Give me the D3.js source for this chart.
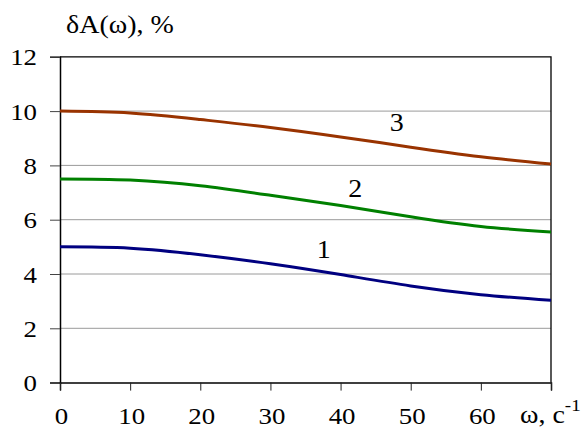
<!DOCTYPE html>
<html>
<head>
<meta charset="utf-8">
<script src="https://cdn.jsdelivr.net/npm/d3@7"></script>
<style>
  html, body { margin: 0; padding: 0; background: #fff; }
</style>
</head>
<body>
<div id="chart"></div>
<script>
// data
const omega = [0, 10, 20, 30, 40, 50, 60, 70]
const curve1 = [5.0, 4.95, 4.71, 4.38, 3.98, 3.56, 3.24, 3.03]
const curve2 = [7.5, 7.46, 7.25, 6.90, 6.52, 6.11, 5.75, 5.55]
const curve3 = [10.0, 9.93, 9.69, 9.40, 9.05, 8.67, 8.32, 8.05]
const xTicks = [0, 10, 20, 30, 40, 50, 60]
const yTicks = [0, 2, 4, 6, 8, 10, 12]
const curveNames = ["1", "2", "3"]
// where the curve numbers sit (in data units)
const labelAt = [[37.6, 4.59], [42.1, 6.84], [48.0, 9.27]]

const W = 586, H = 429
const colors = ["#000080", "#008000", "#993300"]
const serif = "Liberation Serif, Tinos, DejaVu Serif, serif"
const sx = 1.12  // text in the picture is a bit wider than normal

const svg = d3.select("#chart")
  .append("svg")
    .attr("width", W)
    .attr("height", H)
    .style("font-family", serif)

const x = d3.scaleLinear().domain([0, 70]).range([60, 551])
const y = d3.scaleLinear().domain([0, 12]).range([382.6, 56.8])

// grid lines
svg.append("g")
  .selectAll("line")
  .data(yTicks.filter(d => d > 0 && d < 12))
  .join("line")
    .attr("x1", x(0)).attr("x2", x(70))
    .attr("y1", d => y(d)).attr("y2", d => y(d))
    .attr("stroke", "#9a9a9a")
    .attr("stroke-width", 1)

// frame top and right
svg.append("path")
  .attr("d", `M${x(0)},${y(12)}H${x(70)}V${y(0)}`)
  .attr("fill", "none")
  .attr("stroke", "#000")
  .attr("stroke-width", 1.3)

// y axis
const yAxis = svg.append("g")
  .attr("transform", `translate(${x(0)},0)`)
  .call(d3.axisLeft(y).tickValues(yTicks).tickSize(10).tickFormat(d3.format("d")))
yAxis.attr("font-family", null)
yAxis.select(".domain").attr("stroke", "#000").attr("stroke-width", 1.5)
yAxis.selectAll(".tick line").attr("stroke", "#444")
yAxis.selectAll(".tick text")
  .attr("x", null).attr("dy", null)
  .attr("text-anchor", "end")
  .attr("fill", "#000")
  .style("font-family", serif)
  .attr("font-size", 24)
  .attr("transform", `translate(-23,8) scale(${sx},1)`)

// x axis
const xAxis = svg.append("g")
  .attr("transform", `translate(0,${y(0)})`)
  .call(d3.axisBottom(x).tickValues(xTicks.concat([70])).tickSize(8)
    .tickFormat(d => d === 70 ? "" : d))
xAxis.attr("font-family", null)
xAxis.select(".domain").attr("stroke", "#000").attr("stroke-width", 1.5)
xAxis.selectAll(".tick line").attr("stroke", "#222")
xAxis.selectAll(".tick text")
  .attr("y", null).attr("dy", null)
  .attr("fill", "#000")
  .style("font-family", serif)
  .attr("font-size", 24)
  .attr("transform", `translate(1,41) scale(${sx},1)`)

// curves
const line = d3.line()
  .x((d, i) => x(omega[i]))
  .y(d => y(d))
  .curve(d3.curveNatural)

svg.append("g")
  .selectAll("path")
  .data([curve1, curve2, curve3])
  .join("path")
    .attr("d", line)
    .attr("fill", "none")
    .attr("stroke", (d, i) => colors[i])
    .attr("stroke-width", 3)

// curve numbers
svg.append("g")
  .selectAll("text")
  .data(curveNames)
  .join("text")
    .attr("transform", (d, i) => `translate(${x(labelAt[i][0])},${y(labelAt[i][1])}) scale(${sx},1)`)
    .attr("text-anchor", "middle")
    .style("font-family", serif)
    .attr("font-size", 25)
    .text(d => d)

// axis titles
svg.append("text")
  .attr("transform", `translate(66,33) scale(${sx},1)`)
  .style("font-family", serif)
  .attr("font-size", 25)
  .text("δA(ω), %")

const xt = svg.append("text")
  .attr("transform", `translate(520,423) scale(${sx},1)`)
  .style("font-family", serif)
  .attr("font-size", 25)
xt.append("tspan").text("ω, c")
xt.append("tspan").attr("font-size", 17).attr("dy", -12).text("-1")
</script>
</body>
</html>
